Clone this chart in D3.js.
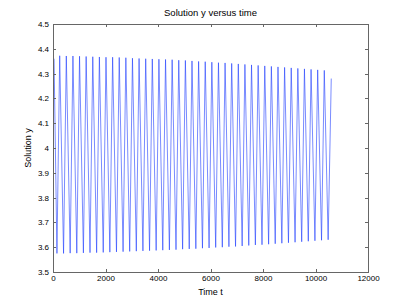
<html>
<meta charset="utf-8">

<head>
    <script src="https://d3js.org/d3.v7.min.js"></script>
    <style>
        body {
            margin: 0;
            background: white;
        }

        text {
            font-family: "Liberation Sans", Arial, sans-serif;
        }

        .axis path,
        .axis line {
            stroke: #666;
            shape-rendering: crispEdges;
        }

        .axis text {
            font-size: 8px;
            fill: black;
        }
    </style>
</head>

<svg id="chart" width="407" height="306"></svg>

<script>
    // extrema (time, value)
    const startPoint = [40, 4.36];
    const endPoint = [10600, 4.28];

    const troughT = [150, 402, 654, 906, 1158, 1410, 1662, 1914, 2166, 2418, 2670, 2922, 3174, 3426,
        3678, 3930, 4182, 4434, 4686, 4938, 5190, 5442, 5694, 5946, 6198, 6450, 6702, 6954, 7206,
        7458, 7710, 7962, 8214, 8466, 8718, 8970, 9222, 9474, 9726, 9978, 10230, 10482];
    const troughY = [3.575, 3.575, 3.576, 3.576, 3.577, 3.578, 3.578, 3.579, 3.580, 3.581, 3.582,
        3.583, 3.584, 3.585, 3.586, 3.587, 3.588, 3.589, 3.590, 3.592, 3.593, 3.594, 3.596, 3.597,
        3.599, 3.600, 3.602, 3.603, 3.605, 3.607, 3.609, 3.610, 3.612, 3.614, 3.616, 3.618, 3.620,
        3.622, 3.624, 3.626, 3.628, 3.630];

    const peakT = [255, 507, 759, 1011, 1263, 1515, 1767, 2019, 2271, 2523, 2775, 3027, 3279, 3531,
        3783, 4035, 4287, 4539, 4791, 5043, 5295, 5547, 5799, 6051, 6303, 6555, 6807, 7059, 7311,
        7563, 7815, 8067, 8319, 8571, 8823, 9075, 9327, 9579, 9831, 10083, 10335];
    const peakY = [4.372, 4.371, 4.371, 4.370, 4.369, 4.368, 4.367, 4.366, 4.366, 4.365, 4.364,
        4.362, 4.361, 4.360, 4.359, 4.358, 4.357, 4.356, 4.354, 4.353, 4.351, 4.349, 4.348, 4.346,
        4.344, 4.343, 4.341, 4.339, 4.337, 4.335, 4.333, 4.331, 4.329, 4.327, 4.325, 4.323, 4.321,
        4.319, 4.317, 4.315, 4.313];

    const xTicks = [0, 2000, 4000, 6000, 8000, 10000, 12000];
    const yTicks = [3.5, 3.6, 3.7, 3.8, 3.9, 4, 4.1, 4.2, 4.3, 4.4, 4.5];

    // trough, peak, trough, peak ...
    let points = [startPoint];
    troughT.forEach((t, i) => {
        points.push([t, troughY[i]]);
        if (i < peakT.length) points.push([peakT[i], peakY[i]]);
    });
    points.push(endPoint);

    const svg = d3.select('svg#chart');
    const margin = { top: 24, right: 39, bottom: 34, left: 53 };
    const width = svg.attr('width');
    const height = svg.attr('height');
    const chartWidth = width - margin.left - margin.right;
    const chartHeight = height - margin.top - margin.bottom;

    const xScale = d3.scaleLinear().domain([0, 12000]).range([0, chartWidth]);
    const yScale = d3.scaleLinear().domain([3.5, 4.5]).range([chartHeight, 0]);

    let chartArea = svg.append('g')
        .attr('transform', `translate(${margin.left},${margin.top})`);

    const lineGen = d3.line()
        .x(d => xScale(d[0]))
        .y(d => yScale(d[1]));

    chartArea.append('path')
        .datum(points)
        .attr('fill', 'none')
        .attr('stroke', '#1f3dff')
        .attr('stroke-width', 0.6)
        .attr('d', lineGen);

    // box axes, ticks pointing inwards
    chartArea.append('g').attr('class', 'axis')
        .attr('transform', `translate(0,${chartHeight})`)
        .call(d3.axisBottom(xScale).tickValues(xTicks).tickSizeInner(-3).tickSizeOuter(0).tickPadding(3)
            .tickFormat(d3.format('d')));

    chartArea.append('g').attr('class', 'axis')
        .call(d3.axisTop(xScale).tickValues(xTicks).tickSizeInner(-3).tickSizeOuter(0).tickFormat(''));

    chartArea.append('g').attr('class', 'axis')
        .call(d3.axisLeft(yScale).tickValues(yTicks).tickSizeInner(-3).tickSizeOuter(0).tickPadding(4)
            .tickFormat(d3.format('')));

    chartArea.append('g').attr('class', 'axis')
        .attr('transform', `translate(${chartWidth},0)`)
        .call(d3.axisRight(yScale).tickValues(yTicks).tickSizeInner(-3).tickSizeOuter(0).tickFormat(''));

    // labels
    svg.append('text').text('Solution y versus time')
        .attr('x', margin.left + chartWidth / 2)
        .attr('y', 16)
        .attr('text-anchor', 'middle')
        .style('font-size', '9.5px');

    svg.append('text').text('Time t')
        .attr('x', margin.left + chartWidth / 2)
        .attr('y', 295)
        .attr('text-anchor', 'middle')
        .style('font-size', '9px');

    svg.append('text').text('Solution y')
        .attr('transform', `translate(31,${margin.top + chartHeight / 2}) rotate(-90)`)
        .attr('text-anchor', 'middle')
        .style('font-size', '9px');
</script>

</html>
